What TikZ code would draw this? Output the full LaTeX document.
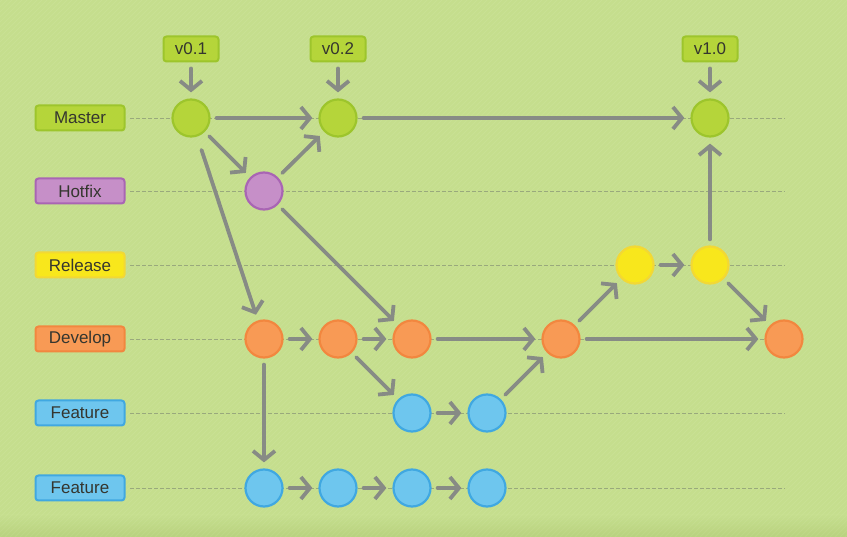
\documentclass[tikz,border=0pt]{standalone}
\usepackage{fontspec}
\setmainfont{Liberation Sans}
\usetikzlibrary{arrows.meta}
\definecolor{bg}{HTML}{C5DE8D}
\definecolor{bgdark}{HTML}{B8D27E}
\definecolor{arrowgray}{HTML}{878B85}
\definecolor{dashcol}{HTML}{8E9C78}
\definecolor{txt}{HTML}{35362F}
\definecolor{mfill}{HTML}{B5D53A}\definecolor{mdraw}{HTML}{9DC52C}
\definecolor{hfill}{HTML}{C68FC8}\definecolor{hdraw}{HTML}{A965B4}
\definecolor{rfill}{HTML}{F8E71C}\definecolor{rdraw}{HTML}{F2D835}
\definecolor{dfill}{HTML}{F89A55}\definecolor{ddraw}{HTML}{F2873F}
\definecolor{ffill}{HTML}{6EC6EE}\definecolor{fdraw}{HTML}{40A8E1}
\tikzset{
  commit/.style={circle, minimum size=37pt, inner sep=0pt, line width=2.2pt},
  cmaster/.style={commit, fill=mfill, draw=mdraw},
  chotfix/.style={commit, fill=hfill, draw=hdraw},
  crelease/.style={commit, fill=rfill, draw=rdraw},
  cdevelop/.style={commit, fill=dfill, draw=ddraw},
  cfeature/.style={commit, fill=ffill, draw=fdraw},
  lbl/.style={rounded corners=3pt, minimum width=89pt, minimum height=25pt, inner sep=0pt,
     line width=2pt, text=txt, font=\fontsize{17}{20}\selectfont},
  tag/.style={lbl, minimum width=55pt, fill=mfill, draw=mdraw},
  arr/.style={draw=arrowgray, line width=3.8pt, line cap=round,
     -{Straight Barb[length=9pt,width=22pt]}, shorten >=6pt, shorten <=6pt},
  lane/.style={draw=dashcol, line width=0.8pt, dash pattern=on 4pt off 2pt, opacity=0.8},
  hatch/.style={draw=white, line width=0.8pt, opacity=0.07}
}
\begin{document}
\begin{tikzpicture}[x=1pt,y=-1pt]
\useasboundingbox (0,0) rectangle (847,537);
\fill[bg] (0,0) rectangle (847,537);
\shade[top color=bg, bottom color=bgdark] (0,515) rectangle (847,537);
\begin{scope}
\clip (0,0) rectangle (847,537);
\foreach \i in {-540,-535,...,847} \draw[hatch] (\i,537) -- (\i+537,0);
\end{scope}
% lanes
\foreach \y in {118,191,265,339,413,488} \draw[lane] (130,\y) -- (785,\y);
% labels
\node[lbl, fill=mfill, draw=mdraw] (lm) at (80,118) {Master};
\node[lbl, fill=hfill, draw=hdraw] (lh) at (80,191) {Hotfix};
\node[lbl, fill=rfill, draw=rdraw] (lr) at (80,265) {Release};
\node[lbl, fill=dfill, draw=ddraw] (ld) at (80,339) {Develop};
\node[lbl, fill=ffill, draw=fdraw] (lf) at (80,413) {Feature};
\node[lbl, fill=ffill, draw=fdraw] (lg) at (80,488) {Feature};
% tags
\node[tag] (t1) at (191,49) {v0.1};
\node[tag] (t2) at (338,49) {v0.2};
\node[tag] (t3) at (710,49) {v1.0};
% commits
\node[cmaster] (m1) at (191,118) {};
\node[cmaster] (m2) at (338,118) {};
\node[cmaster] (m3) at (710,118) {};
\node[chotfix] (h1) at (264,191) {};
\node[crelease] (r1) at (635,265) {};
\node[crelease] (r2) at (710,265) {};
\node[cdevelop] (d1) at (264,339) {};
\node[cdevelop] (d2) at (338,339) {};
\node[cdevelop] (d3) at (412,339) {};
\node[cdevelop] (d4) at (561,339) {};
\node[cdevelop] (d5) at (784,339) {};
\node[cfeature] (f1) at (412,413) {};
\node[cfeature] (f2) at (487,413) {};
\node[cfeature] (g1) at (264,488) {};
\node[cfeature] (g2) at (338,488) {};
\node[cfeature] (g3) at (412,488) {};
\node[cfeature] (g4) at (487,488) {};
% connectors
\draw[arr] (t1) -- (m1);
\draw[arr] (t2) -- (m2);
\draw[arr] (t3) -- (m3);
\draw[arr] (m1) -- (m2);
\draw[arr] (m2) -- (m3);
\draw[arr] (m1) -- (h1);
\draw[arr] (h1) -- (m2);
\draw[arr, shorten <=14pt] (m1) -- (d1);
\draw[arr] (h1) -- (d3);
\draw[arr] (d1) -- (d2);
\draw[arr] (d2) -- (d3);
\draw[arr] (d3) -- (d4);
\draw[arr] (d4) -- (d5);
\draw[arr] (d1) -- (g1);
\draw[arr] (d2) -- (f1);
\draw[arr] (f1) -- (f2);
\draw[arr] (f2) -- (d4);
\draw[arr] (g1) -- (g2);
\draw[arr] (g2) -- (g3);
\draw[arr] (g3) -- (g4);
\draw[arr] (d4) -- (r1);
\draw[arr] (r1) -- (r2);
\draw[arr] (r2) -- (m3);
\draw[arr] (r2) -- (d5);
\end{tikzpicture}
\end{document}
